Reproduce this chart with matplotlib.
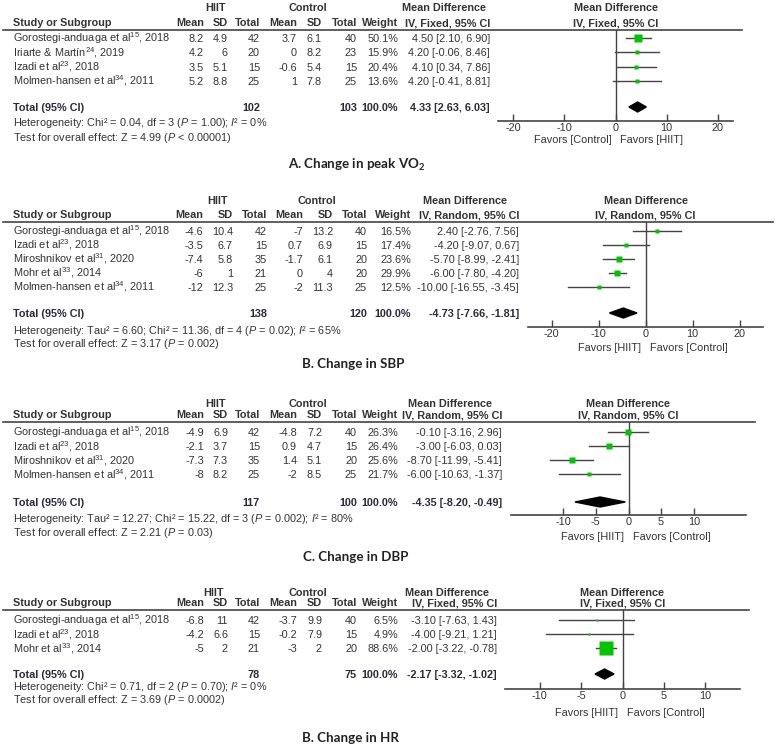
import matplotlib.pyplot as plt

plt.rcParams["font.family"] = "Liberation Sans"
plt.rcParams["mathtext.fontset"] = "custom"
plt.rcParams["mathtext.default"] = "regular"
plt.rcParams["mathtext.rm"] = "Liberation Sans"
plt.rcParams["mathtext.it"] = "Liberation Sans:italic"
plt.rcParams["mathtext.bf"] = "Liberation Sans:bold"
plt.rcParams["axes.unicode_minus"] = False

W, H = 775, 749
FS = 7.85
TXT = "#333333"
TOT = "#2b2b3c"
LINE = "#444444"
GREEN = "#00c400"

# ---- A. peak VO2 ----
a_study = ["Gorostegi-anduaga et al$^{15}$, 2018", "Iriarte & Martín$^{24}$, 2019",
           "Izadi et al$^{23}$, 2018", "Molmen-hansen et al$^{34}$, 2011"]
a_hiit_mean = [8.2, 4.2, 3.5, 5.2]
a_hiit_sd = [4.9, 6, 5.1, 8.8]
a_hiit_n = [42, 20, 15, 25]
a_ctrl_mean = [3.7, 0, -0.6, 1]
a_ctrl_sd = [6.1, 8.2, 5.4, 7.8]
a_ctrl_n = [40, 23, 15, 25]
a_weight = [50.1, 15.9, 20.4, 13.6]
a_md = [4.50, 4.20, 4.10, 4.20]
a_lo = [2.10, -0.06, 0.34, -0.41]
a_hi = [6.90, 8.46, 7.86, 8.81]
a_total_n = [102, 103]
a_total_md = [4.33, 2.63, 6.03]
a_het = r"Heterogeneity: Chi² = 0.04, df = 3 ($\mathit{P}$ = 1.00); $\mathit{I}$² = 0%"
a_test = r"Test for overall effect: Z = 4.99 ($\mathit{P}$ < 0.00001)"
a_ticks = [-20, -10, 0, 10, 20]

# ---- B. SBP ----
b_study = ["Gorostegi-anduaga et al$^{15}$, 2018", "Izadi et al$^{23}$, 2018",
           "Miroshnikov et al$^{31}$, 2020", "Mohr et al$^{33}$, 2014",
           "Molmen-hansen et al$^{34}$, 2011"]
b_hiit_mean = [-4.6, -3.5, -7.4, -6, -12]
b_hiit_sd = [10.4, 6.7, 5.8, 1, 12.3]
b_hiit_n = [42, 15, 35, 21, 25]
b_ctrl_mean = [-7, 0.7, -1.7, 0, -2]
b_ctrl_sd = [13.2, 6.9, 6.1, 4, 11.3]
b_ctrl_n = [40, 15, 20, 20, 25]
b_weight = [16.5, 17.4, 23.6, 29.9, 12.5]
b_md = [2.40, -4.20, -5.70, -6.00, -10.00]
b_lo = [-2.76, -9.07, -8.99, -7.80, -16.55]
b_hi = [7.56, 0.67, -2.41, -4.20, -3.45]
b_total_n = [138, 120]
b_total_md = [-4.73, -7.66, -1.81]
b_het = r"Heterogeneity: Tau² = 6.60; Chi² = 11.36, df = 4 ($\mathit{P}$ = 0.02); $\mathit{I}$² = 65%"
b_test = r"Test for overall effect: Z = 3.17 ($\mathit{P}$ = 0.002)"
b_ticks = [-20, -10, 0, 10, 20]

# ---- C. DBP ----
c_study = ["Gorostegi-anduaga et al$^{15}$, 2018", "Izadi et al$^{23}$, 2018",
           "Miroshnikov et al$^{31}$, 2020", "Molmen-hansen et al$^{34}$, 2011"]
c_hiit_mean = [-4.9, -2.1, -7.3, -8]
c_hiit_sd = [6.9, 3.7, 7.3, 8.2]
c_hiit_n = [42, 15, 35, 25]
c_ctrl_mean = [-4.8, 0.9, 1.4, -2]
c_ctrl_sd = [7.2, 4.7, 5.1, 8.5]
c_ctrl_n = [40, 15, 20, 25]
c_weight = [26.3, 26.4, 25.6, 21.7]
c_md = [-0.10, -3.00, -8.70, -6.00]
c_lo = [-3.16, -6.03, -11.99, -10.63]
c_hi = [2.96, 0.03, -5.41, -1.37]
c_total_n = [117, 100]
c_total_md = [-4.35, -8.20, -0.49]
c_het = r"Heterogeneity: Tau² = 12.27; Chi² = 15.22, df = 3 ($\mathit{P}$ = 0.002); $\mathit{I}$² = 80%"
c_test = r"Test for overall effect: Z = 2.21 ($\mathit{P}$ = 0.03)"
c_ticks = [-10, -5, 0, 5, 10]

# ---- D. HR ----
d_study = ["Gorostegi-anduaga et al$^{15}$, 2018", "Izadi et al$^{23}$, 2018",
           "Mohr et al$^{33}$, 2014"]
d_hiit_mean = [-6.8, -4.2, -5]
d_hiit_sd = [11, 6.6, 2]
d_hiit_n = [42, 15, 21]
d_ctrl_mean = [-3.7, -0.2, -3]
d_ctrl_sd = [9.9, 7.9, 2]
d_ctrl_n = [40, 15, 20]
d_weight = [6.5, 4.9, 88.6]
d_md = [-3.10, -4.00, -2.00]
d_lo = [-7.63, -9.21, -3.22]
d_hi = [1.43, 1.21, -0.78]
d_total_n = [78, 75]
d_total_md = [-2.17, -3.32, -1.02]
d_het = r"Heterogeneity: Chi² = 0.71, df = 2 ($\mathit{P}$ = 0.70); $\mathit{I}$² = 0%"
d_test = r"Test for overall effect: Z = 3.69 ($\mathit{P}$ = 0.0002)"
d_ticks = [-10, -5, 0, 5, 10]

panels = [
    dict(study=a_study, hm=a_hiit_mean, hs=a_hiit_sd, hn=a_hiit_n, cm=a_ctrl_mean,
         cs=a_ctrl_sd, cn=a_ctrl_n, w=a_weight, md=a_md, lo=a_lo, hi=a_hi,
         tn=a_total_n, tmd=a_total_md, het=a_het, test=a_test, ticks=a_ticks,
         model="IV, Fixed, 95% CI", fav=("Favors [Control]", "Favors [HIIT]"),
         title=r"A. Change in peak VO$_2$"),
    dict(study=b_study, hm=b_hiit_mean, hs=b_hiit_sd, hn=b_hiit_n, cm=b_ctrl_mean,
         cs=b_ctrl_sd, cn=b_ctrl_n, w=b_weight, md=b_md, lo=b_lo, hi=b_hi,
         tn=b_total_n, tmd=b_total_md, het=b_het, test=b_test, ticks=b_ticks,
         model="IV, Random, 95% CI", fav=("Favors [HIIT]", "Favors [Control]"),
         title="B. Change in SBP"),
    dict(study=c_study, hm=c_hiit_mean, hs=c_hiit_sd, hn=c_hiit_n, cm=c_ctrl_mean,
         cs=c_ctrl_sd, cn=c_ctrl_n, w=c_weight, md=c_md, lo=c_lo, hi=c_hi,
         tn=c_total_n, tmd=c_total_md, het=c_het, test=c_test, ticks=c_ticks,
         model="IV, Random, 95% CI", fav=("Favors [HIIT]", "Favors [Control]"),
         title="C. Change in DBP"),
    dict(study=d_study, hm=d_hiit_mean, hs=d_hiit_sd, hn=d_hiit_n, cm=d_ctrl_mean,
         cs=d_ctrl_sd, cn=d_ctrl_n, w=d_weight, md=d_md, lo=d_lo, hi=d_hi,
         tn=d_total_n, tmd=d_total_md, het=d_het, test=d_test, ticks=d_ticks,
         model="IV, Fixed, 95% CI", fav=("Favors [HIIT]", "Favors [Control]"),
         title="B. Change in HR"),
]

# pixel layout of each block
layouts = [
    dict(top=7, line_y=30, row0=38, step=14.3, total_y=107, het_y=122, test_y=137,
         cols=[204, 228, 260, 297, 322, 357, 398], md_r=490, md_head=444,
         hiit_c=215, ctrl_c=308, axis=(498, 733), xlim=(-23, 23), axis_y=121,
         line_end=742, fav_y=139, title=(288, 165)),
    dict(top=200, line_y=222, row0=231, step=14, total_y=313, het_y=330, test_y=343,
         cols=[203, 233, 267, 303, 333, 367, 411], md_r=519, md_head=465,
         hiit_c=217, ctrl_c=317, axis=(528, 763), xlim=(-25, 25), axis_y=327,
         line_end=773, fav_y=347, title=(302, 364)),
    dict(top=403, line_y=422, row0=432, step=14, total_y=502, het_y=518, test_y=532,
         cols=[204, 228, 260, 297, 322, 357, 398], md_r=502, md_head=450,
         hiit_c=216, ctrl_c=308, axis=(511, 746), xlim=(-18, 18), axis_y=515,
         line_end=755, fav_y=536, title=(303, 557)),
    dict(top=592, line_y=610, row0=620, step=14, total_y=674, het_y=686, test_y=699,
         cols=[204, 228, 260, 297, 322, 357, 398], md_r=497, md_head=447,
         hiit_c=214, ctrl_c=308, axis=(505, 740), xlim=(-14.2, 14.2), axis_y=689,
         line_end=749, fav_y=712, title=(302, 738)),
]

fig = plt.figure(figsize=(W / 100, H / 100), dpi=100)
bg = fig.add_axes([0, 0, 1, 1])
bg.set_xlim(0, W)
bg.set_ylim(H, 0)
bg.axis("off")


def txt(x, y, s, ha="left", bold=False, color=TXT, size=FS, family=None):
    kw = {"family": family} if family else {}
    bg.text(x, y + 4, s, ha=ha, va="baseline", fontsize=size, color=color,
            fontweight="bold" if bold else "normal", **kw)


def draw_panel(p, L):
    cols = L["cols"]
    h1 = L["top"]
    h2 = L["line_y"] - 8
    zero_px = L["axis"][0] + (0 - L["xlim"][0]) / (L["xlim"][1] - L["xlim"][0]) * (L["axis"][1] - L["axis"][0])

    # headers
    txt(L["hiit_c"], h1, "HIIT", ha="center", bold=True)
    txt(L["ctrl_c"], h1, "Control", ha="center", bold=True)
    txt(L["md_head"], h1, "Mean Difference", ha="center", bold=True)
    txt(zero_px, h1, "Mean Difference", ha="center", bold=True)
    txt(13, h2, "Study or Subgroup", bold=True)
    for x, lab in zip(cols, ["Mean", "SD", "Total", "Mean", "SD", "Total", "Weight"]):
        txt(x, h2, lab, ha="right", bold=True)
    txt(L["md_r"], h2, p["model"], ha="right", bold=True)
    txt(zero_px, h2, p["model"], ha="center", bold=True)
    bg.plot([3, L["line_end"]], [L["line_y"]] * 2, color=LINE, lw=1.2)

    # study rows
    rows = [L["row0"] + i * L["step"] for i in range(len(p["study"]))]
    for i, y in enumerate(rows):
        txt(13, y, p["study"][i])
        vals = [f"{p['hm'][i]:g}", f"{p['hs'][i]:g}", f"{p['hn'][i]}",
                f"{p['cm'][i]:g}", f"{p['cs'][i]:g}", f"{p['cn'][i]}",
                f"{p['w'][i]:.1f}%"]
        for x, v in zip(cols, vals):
            txt(x, y, v, ha="right")
        txt(L["md_r"], y, f"{p['md'][i]:.2f} [{p['lo'][i]:.2f}, {p['hi'][i]:.2f}]", ha="right")

    # total row
    ty = L["total_y"]
    tmd, tlo, thi = p["tmd"]
    txt(13, ty, "Total (95% CI)", bold=True, color=TOT)
    txt(cols[2], ty, f"{p['tn'][0]}", ha="right", bold=True, color=TOT)
    txt(cols[5], ty, f"{p['tn'][1]}", ha="right", bold=True, color=TOT)
    txt(cols[6], ty, "100.0%", ha="right", bold=True, color=TOT)
    txt(L["md_r"], ty, f"{tmd:.2f} [{tlo:.2f}, {thi:.2f}]", ha="right", bold=True, color=TOT)
    txt(13, L["het_y"], p["het"])
    txt(13, L["test_y"], p["test"])
    txt(L["title"][0], L["title"][1], p["title"], bold=True, color="#222222",
        size=9.6, family="Lato")

    # forest plot
    x0, x1 = L["axis"]
    ax = fig.add_axes([x0 / W, 1 - L["axis_y"] / H, (x1 - x0) / W,
                       (L["axis_y"] - L["line_y"]) / H])
    ax.set_xlim(*L["xlim"])
    ax.set_ylim(L["axis_y"], L["line_y"])
    ax.patch.set_alpha(0)
    for s in ("top", "left", "right"):
        ax.spines[s].set_visible(False)
    ax.spines["bottom"].set_color(LINE)
    ax.spines["bottom"].set_linewidth(1.2)
    ax.set_yticks([])
    ax.set_xticks(p["ticks"])
    ax.set_xticklabels([f"{t:g}" for t in p["ticks"]])
    ax.tick_params(axis="x", direction="in", length=5, width=1, color=LINE,
                   labelcolor=TXT, labelsize=FS, pad=1.5)
    ax.axvline(0, color=LINE, lw=1)
    for i, y in enumerate(rows):
        ax.plot([p["lo"][i], p["hi"][i]], [y, y], color=LINE, lw=1, clip_on=False)
        side = 2 + 0.135 * p["w"][i]
        ax.plot(p["md"][i], y, marker="s", ms=side * 0.72, color=GREEN, mec="none",
                clip_on=False)
    ax.fill([tlo, tmd, thi, tmd], [ty, ty - 5, ty, ty + 5], color="black", clip_on=False)
    ax.annotate(p["fav"][0], xy=(0, L["fav_y"] + 4), xytext=(-3, 0), textcoords="offset points",
                ha="right", va="baseline", fontsize=FS, color=TXT, annotation_clip=False)
    ax.annotate(p["fav"][1], xy=(0, L["fav_y"] + 4), xytext=(3, 0), textcoords="offset points",
                ha="left", va="baseline", fontsize=FS, color=TXT, annotation_clip=False)


for p, L in zip(panels, layouts):
    draw_panel(p, L)

fig.savefig("out.png", dpi=100)
